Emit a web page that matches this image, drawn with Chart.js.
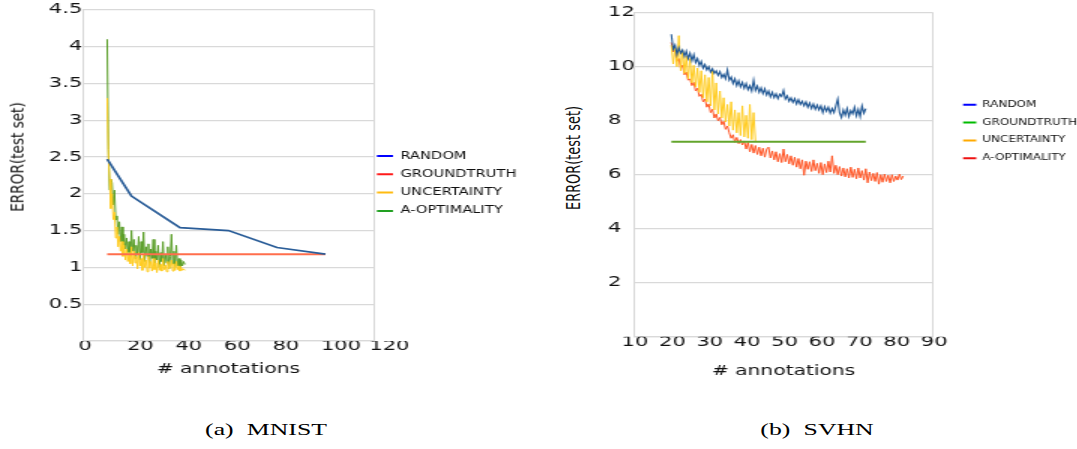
<!DOCTYPE html>
<html>
<head>
<meta charset="utf-8">
<title>MNIST / SVHN error curves</title>
<script src="https://cdn.jsdelivr.net/npm/chart.js@4.4.1/dist/chart.umd.min.js"></script>
<style>
  html, body { margin:0; padding:0; background:#fff; width:1077px; height:449px; overflow:hidden; }
  /* the reference figure is stretched sideways, so the charts are too */
  .wrap { position:absolute; top:0; transform-origin:0 0; transform:scaleX(1.5); }
  .wrap canvas { display:block; }
  .ytitle { position:absolute; font-family:"DejaVu Sans"; color:#111; white-space:nowrap; line-height:1; }
  .cap { position:absolute; top:422px; font-family:"Liberation Serif"; font-size:16.6px; line-height:1;
         word-spacing:4.4px; white-space:nowrap; color:#000; transform:translateX(-50%) scaleX(1.55); }
</style>
</head>
<body>
<div class="wrap" style="left:0"><canvas id="mnist" width="360" height="401"></canvas></div>
<div class="wrap" style="left:608px"><canvas id="svhn" width="315" height="401"></canvas></div>
<div class="ytitle" style="left:18px;top:157px;font-size:17px;transform:translate(-50%,-50%) rotate(-90deg) scaleX(0.8)">ERROR(test set)</div>
<div class="ytitle" style="left:573px;top:158px;font-size:19px;transform:translate(-50%,-50%) rotate(-90deg) scaleX(0.68)">ERROR(test set)</div>
<div class="cap" style="left:265.5px">(a) MNIST</div>
<div class="cap" style="left:816.5px">(b) SVHN</div>
<script>
// ---------- MNIST ----------
const mnistXTicks = [0, 20, 40, 60, 80, 100, 120];
const mnistYTicks = [0, 0.5, 1, 1.5, 2, 2.5, 3, 3.5, 4, 4.5];
const mnistRandomX = [10, 20, 40, 60, 80, 100];
const mnistRandomY = [2.47, 1.97, 1.54, 1.50, 1.27, 1.18];
const mnistTruthX = [10, 100];
const mnistTruthY = [1.18, 1.18];
// noisy curves: one value every half annotation starting at 10
const mnistNoisyStart = 10;
const mnistNoisyStep = 0.5;
const mnistUncertY = [
  3.30,2.50,2.20,1.80,2.00,1.65,1.75,1.40,1.55,1.28,
  1.42,1.22,1.35,1.15,1.30,1.10,1.25,1.08,1.20,1.05,
  1.28,1.02,1.22,1.06,1.15,0.98,1.20,1.02,1.12,0.96,
  1.18,1.00,1.10,0.94,1.15,0.99,1.08,0.95,1.12,0.97,
  1.06,0.93,1.10,0.96,1.04,0.95,1.12,0.97,1.03,0.94,
  1.08,0.98,1.02,1.10,0.95,1.05,0.96,1.08,0.97,1.02,
  0.95,1.00,0.96,0.98,0.96];
const mnistAoptY = [
  4.10,2.60,2.05,2.20,2.15,1.85,2.05,1.65,1.70,1.45,
  1.62,1.35,1.55,1.30,1.45,1.25,1.40,1.20,1.35,1.15,
  1.50,1.22,1.38,1.12,1.30,1.18,1.42,1.10,1.35,1.20,
  1.48,1.08,1.28,1.15,1.32,1.05,1.25,1.12,1.38,1.02,
  1.22,1.10,1.30,1.00,1.20,1.08,1.35,1.02,1.18,1.06,
  1.28,0.98,1.15,1.45,1.05,1.22,1.00,1.30,1.02,1.12,
  0.98,1.10,1.02,1.08,1.04];

// ---------- SVHN ----------
const svhnXTicks = [10, 20, 30, 40, 50, 60, 70, 80, 90];
const svhnYTicks = [0, 2, 4, 6, 8, 10, 12];
const svhnNoisyStart = 20;
const svhnNoisyStep = 0.5;
const svhnRandomY = [
  11.20,10.65,10.80,10.45,10.70,10.50,10.62,10.38,10.58,10.30,
  10.50,10.22,10.45,10.15,10.30,10.05,10.20,9.95,10.08,9.88,
  10.00,9.80,9.92,9.75,9.85,9.68,9.82,9.60,9.72,9.55,
  9.88,9.50,9.62,9.38,9.55,9.30,9.48,9.25,9.42,9.20,
  9.38,9.15,9.30,9.10,9.50,9.12,9.28,9.05,9.22,9.00,
  9.18,8.95,9.10,8.88,9.05,8.85,9.00,8.82,8.98,8.90,
  9.12,8.80,8.92,8.72,8.85,8.68,8.82,8.62,8.78,8.60,
  8.72,8.55,8.70,8.50,8.66,8.45,8.62,8.42,8.58,8.40,
  8.55,8.30,8.52,8.35,8.50,8.28,8.45,8.30,8.55,8.80,
  8.30,8.12,8.40,8.20,8.45,8.15,8.38,8.25,8.50,8.18,
  8.42,8.15,8.55,8.28,8.45];
const svhnTruthX = [20, 72];
const svhnTruthY = [7.22, 7.22];
const svhnUncertY = [
  10.80,10.10,10.70,10.00,11.15,9.85,10.60,9.75,10.40,9.55,
  10.30,9.40,10.05,9.25,9.95,9.05,9.85,8.85,9.70,8.70,
  9.60,8.55,9.88,8.40,9.40,8.25,9.10,8.10,8.85,7.95,
  8.60,7.80,8.70,7.65,8.40,7.55,8.30,7.45,8.55,7.40,
  8.20,7.35,8.60,7.30,8.30,7.25];
const svhnAoptY = [
  10.90,10.55,10.60,10.20,10.30,9.95,10.05,9.70,9.80,9.50,
  9.55,9.30,9.42,9.10,9.20,8.90,8.98,8.70,8.80,8.50,
  8.62,8.30,8.42,8.10,8.25,8.00,8.12,7.85,7.98,7.68,
  7.80,7.55,7.35,7.48,7.20,7.38,7.15,7.30,7.10,7.25,
  6.95,7.20,6.85,7.12,6.80,7.08,6.75,7.02,6.70,6.98,
  6.65,6.95,7.02,6.62,6.88,6.55,6.85,6.48,6.78,6.45,
  6.95,6.48,6.75,6.40,6.70,6.35,6.65,6.28,6.60,6.22,
  6.55,5.98,6.50,6.20,6.48,6.12,6.55,6.15,6.42,6.05,
  6.45,6.00,6.40,6.08,6.50,6.10,6.70,6.05,6.35,6.00,
  6.30,5.95,6.25,5.92,6.22,5.88,6.28,5.90,6.20,5.85,
  6.25,5.88,6.15,5.80,6.22,5.70,6.10,5.78,6.05,5.75,
  6.08,5.65,6.00,5.72,6.02,5.75,5.98,5.70,6.00,5.75,
  5.95,5.80,6.02,5.82,5.95];

const seriesNames = ['RANDOM', 'GROUNDTRUTH', 'UNCERTAINTY', 'A-OPTIMALITY'];
const mnistLegendColors = ['#0000ff', '#ff1a1a', '#ffbb11', '#22a022'];
const svhnLegendColors = ['#0000ff', '#00bb00', '#ffaa00', '#ee1111'];

function pairs(xs, ys) { return xs.map((x, i) => ({x: x, y: ys[i]})); }
function sampled(x0, dx, ys) { return ys.map((y, i) => ({x: x0 + i * dx, y: y})); }

Chart.defaults.font.family = 'DejaVu Sans';
Chart.defaults.color = '#111';

// move the legend box to a fixed spot after layout
const placeLegend = {
  id: 'placeLegend',
  afterLayout(chart, args, opts) {
    const l = chart.legend;
    const w = l.right - l.left, h = l.bottom - l.top;
    l.left = opts.x; l.top = opts.y; l.right = opts.x + w; l.bottom = opts.y + h;
  }
};

function makeChart(id, c) {
  const grey = '#d9d9d9';
  return new Chart(document.getElementById(id), {
    type: 'line',
    data: {datasets: c.datasets},
    options: {
      responsive: false,
      animation: false,
      elements: {point: {radius: 0}, line: {tension: 0}},
      layout: {padding: c.padding},
      scales: {
        x: {
          type: 'linear', min: c.xTicks[0], max: c.xTicks[c.xTicks.length - 1],
          afterBuildTicks: s => { s.ticks = c.xTicks.map(v => ({value: v})); },
          afterFit: s => { s.height = c.xHeight; },
          ticks: {align: c.xAlign, labelOffset: c.xLabelOffset, padding: -3, maxRotation: 0,
                  autoSkip: false, color: '#111', font: {size: 14}},
          grid: {drawTicks: false, lineWidth: 1,
                 color: ctx => (ctx.tick && ctx.tick.value === c.xTicks[c.xTicks.length - 1]) ? grey : 'rgba(0,0,0,0)'},
          border: {color: grey, width: 1.3},
          title: {display: true, text: '# annotations', color: '#111', font: {size: 13.5},
                  padding: {top: 0, bottom: c.titleBottom}}
        },
        y: {
          min: c.yTicks[0], max: c.yTicks[c.yTicks.length - 1],
          afterBuildTicks: s => { s.ticks = c.yTicks.map(v => ({value: v})); },
          afterFit: s => { s.width = c.yWidth; },
          ticks: {crossAlign: c.yCross, padding: 0.5, color: '#111', font: {size: 14},
                  callback: v => v === 0 ? '' : v},
          grid: {drawTicks: false, color: grey, lineWidth: 1.3},
          border: {color: grey, width: 1}
        }
      },
      plugins: {
        tooltip: {enabled: false},
        placeLegend: c.legendAt,
        legend: {
          position: 'chartArea', align: 'start',
          labels: {
            boxWidth: c.boxWidth, boxHeight: 2, padding: c.legendPad, color: '#111',
            font: {size: c.legendFont},
            generateLabels: chart => {
              const items = Chart.defaults.plugins.legend.labels.generateLabels(chart);
              items.forEach((it, i) => { it.fillStyle = c.legendColors[i]; it.strokeStyle = c.legendColors[i]; it.lineWidth = 0; });
              return items;
            }
          }
        }
      }
    },
    plugins: [placeLegend]
  });
}

makeChart('mnist', {
  datasets: [
    {label: seriesNames[0], data: pairs(mnistRandomX, mnistRandomY), borderColor: '#2a5d98', borderWidth: 1.7},
    {label: seriesNames[1], data: pairs(mnistTruthX, mnistTruthY), borderColor: '#ff6e4c', borderWidth: 2},
    {label: seriesNames[2], data: sampled(mnistNoisyStart, mnistNoisyStep, mnistUncertY), borderColor: '#ffcc22', borderWidth: 1},
    {label: seriesNames[3], data: sampled(mnistNoisyStart, mnistNoisyStep, mnistAoptY), borderColor: '#5a9e28', borderWidth: 1}
  ],
  xTicks: mnistXTicks, yTicks: mnistYTicks,
  padding: {left: 0, top: 9.8, right: 110.7, bottom: 0},
  xHeight: 60, yWidth: 55.3, titleBottom: 23.6,
  xAlign: 'start', xLabelOffset: -3, yCross: 'near',
  legendColors: mnistLegendColors, legendFont: 9.8, legendPad: 8.5, boxWidth: 10.7,
  legendAt: {x: 242.8, y: 142.6}
});

makeChart('svhn', {
  datasets: [
    {label: seriesNames[0], data: sampled(svhnNoisyStart, svhnNoisyStep, svhnRandomY), borderColor: '#245a96', borderWidth: 1.1},
    {label: seriesNames[1], data: pairs(svhnTruthX, svhnTruthY), borderColor: '#63a52c', borderWidth: 1.8},
    {label: seriesNames[2], data: sampled(svhnNoisyStart, svhnNoisyStep, svhnUncertY), borderColor: '#ffcc22', borderWidth: 1},
    {label: seriesNames[3], data: sampled(svhnNoisyStart, svhnNoisyStep, svhnAoptY), borderColor: '#ff5626', borderWidth: 1}
  ],
  xTicks: svhnXTicks, yTicks: svhnYTicks,
  padding: {left: 0, top: 12.7, right: 98.3, bottom: 0},
  xHeight: 64.3, yWidth: 17.3, titleBottom: 21.9,
  xAlign: 'center', xLabelOffset: 0.7, yCross: 'far',
  legendColors: svhnLegendColors, legendFont: 8, legendPad: 9.8, boxWidth: 8.8,
  legendAt: {x: 226.9, y: 91}
});
</script>
</body>
</html>
